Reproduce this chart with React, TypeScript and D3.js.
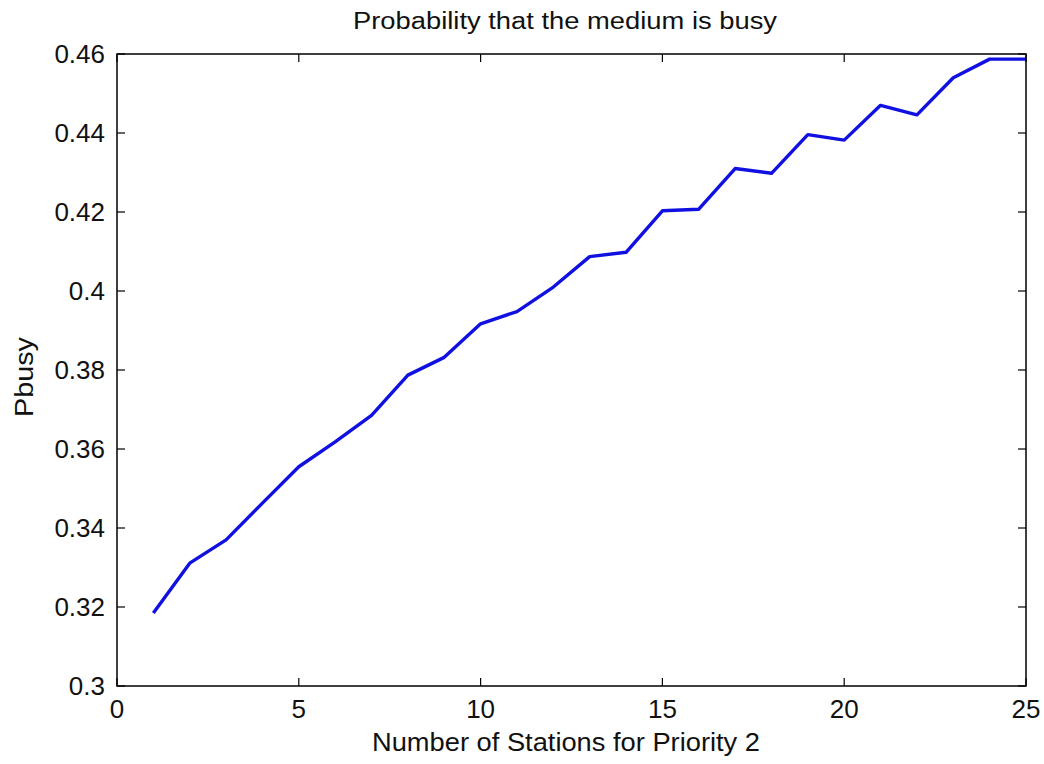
import React from "react";
import * as d3 from "d3";

// Number of priority-2 stations and measured busy probability
const stations = [1, 2, 3, 4, 5, 6, 7, 8, 9, 10, 11, 12, 13, 14, 15, 16, 17, 18, 19, 20, 21, 22, 23, 24, 25];
const pbusy = [
  0.3185, 0.3311, 0.337, 0.3463, 0.3555, 0.3618, 0.3685, 0.3787, 0.3832, 0.3917,
  0.3948, 0.401, 0.4087, 0.4098, 0.4203, 0.4207, 0.431, 0.4298, 0.4396, 0.4382,
  0.447, 0.4446, 0.454, 0.4587, 0.4587,
];
const xTicks = [0, 5, 10, 15, 20, 25];
const yTicks = [0.3, 0.32, 0.34, 0.36, 0.38, 0.4, 0.42, 0.44, 0.46];

const W = 1044;
const H = 764;
const left = 117;
const right = 1026;
const top = 54;
const bottom = 686;
const font = "'Liberation Sans', Arial, sans-serif";

export default function App() {
  const x = d3.scaleLinear().domain([0, 25]).range([left, right]);
  const y = d3.scaleLinear().domain([0.3, 0.46]).range([bottom, top]);
  const line = d3
    .line<number>()
    .x((_, i) => x(stations[i]))
    .y((d) => y(d));
  const tl = 8;
  return (
    <svg
      width={W}
      height={H}
      style={{ position: "absolute", left: 0, top: 0, background: "#fff" }}
    >
      <rect x={0} y={0} width={W} height={H} fill="#fff" />
      <path
        d={line(pbusy) || ""}
        fill="none"
        stroke="#1010e0"
        strokeWidth={3.4}
        strokeLinejoin="round"
      />
      <rect
        x={left}
        y={top}
        width={right - left}
        height={bottom - top}
        fill="none"
        stroke="#000"
        strokeWidth={1.5}
      />
      {xTicks.map((t) => (
        <g key={"x" + t}>
          <line x1={x(t)} x2={x(t)} y1={bottom} y2={bottom - tl} stroke="#000" strokeWidth={1.2} />
          <line x1={x(t)} x2={x(t)} y1={top} y2={top + tl} stroke="#000" strokeWidth={1.2} />
          <text
            x={x(t)}
            y={718}
            textAnchor="middle"
            fontFamily={font}
            fontSize={26}
            fill="#111"
          >
            {t}
          </text>
        </g>
      ))}
      {yTicks.map((t) => (
        <g key={"y" + t}>
          <line x1={left} x2={left + tl} y1={y(t)} y2={y(t)} stroke="#000" strokeWidth={1.2} />
          <line x1={right} x2={right - tl} y1={y(t)} y2={y(t)} stroke="#000" strokeWidth={1.2} />
          <text
            x={left - 12}
            y={y(t) + 9}
            textAnchor="end"
            fontFamily={font}
            fontSize={26}
            fill="#111"
          >
            {d3.format("")(+t.toFixed(2))}
          </text>
        </g>
      ))}
      <text
        x={(353 + 777) / 2}
        y={29}
        textAnchor="middle"
        fontFamily={font}
        fontSize={23}
        textLength={424}
        lengthAdjust="spacingAndGlyphs"
        fill="#111"
      >
        Probability that the medium is busy
      </text>
      <text
        x={(372 + 760) / 2}
        y={751}
        textAnchor="middle"
        fontFamily={font}
        fontSize={26}
        textLength={388}
        lengthAdjust="spacingAndGlyphs"
        fill="#111"
      >
        Number of Stations for Priority 2
      </text>
      <text
        transform={`translate(33, 377) rotate(-90)`}
        textAnchor="middle"
        fontFamily={font}
        fontSize={26}
        textLength={80}
        lengthAdjust="spacingAndGlyphs"
        fill="#111"
      >
        Pbusy
      </text>
    </svg>
  );
}
